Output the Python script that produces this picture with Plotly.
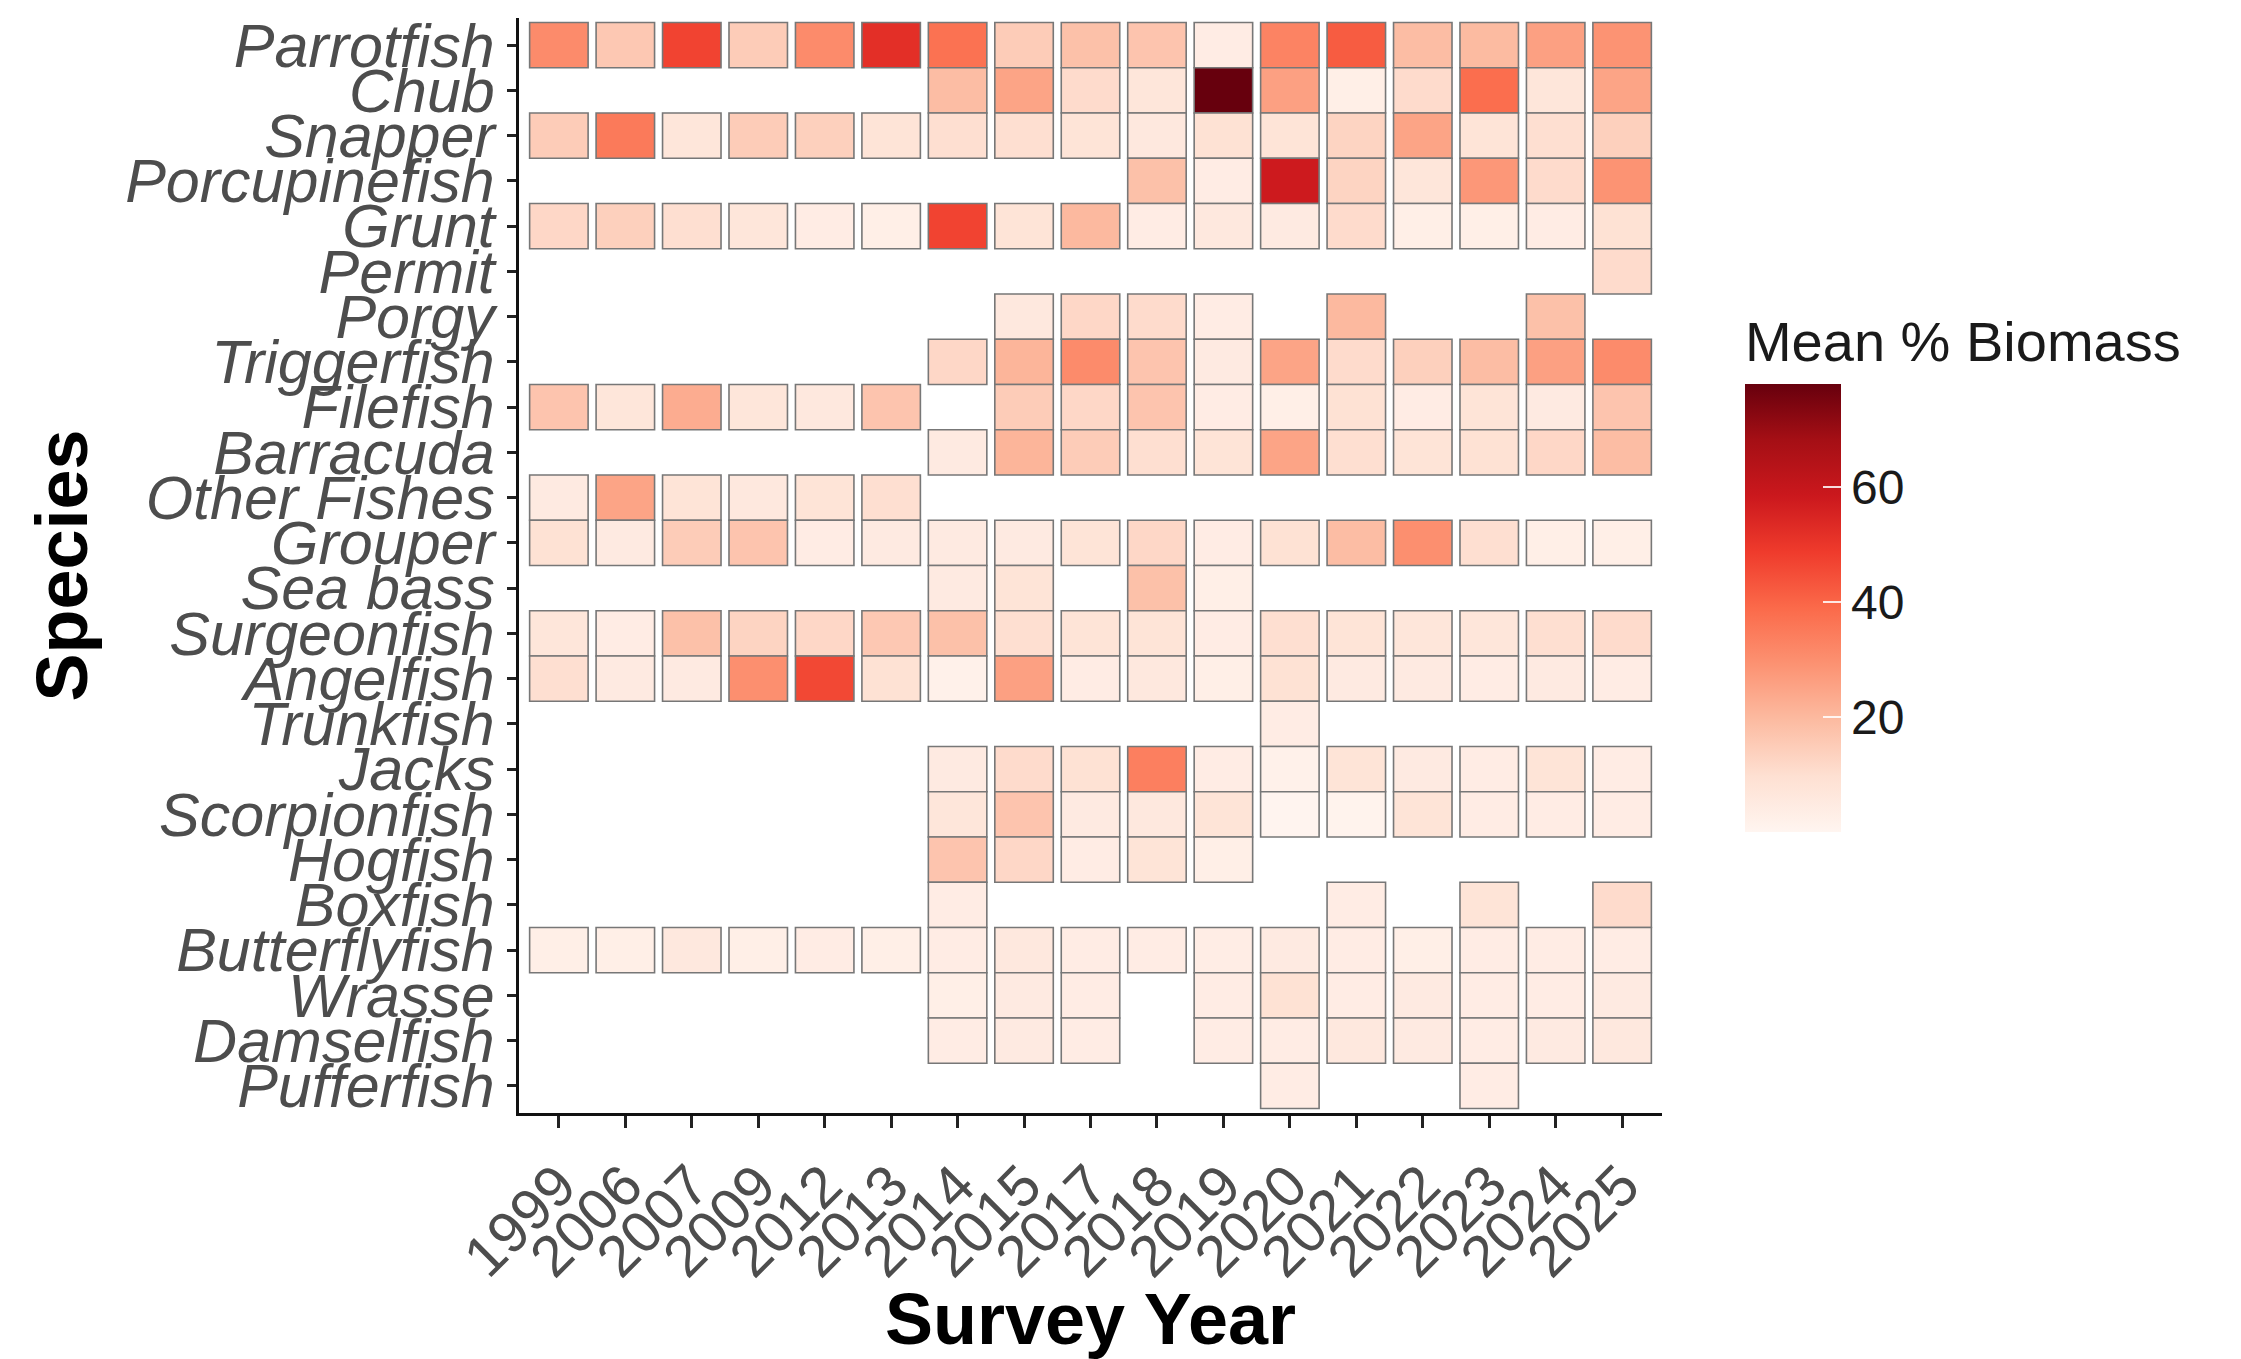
import plotly.graph_objects as go

years = ["1999", "2006", "2007", "2009", "2012", "2013", "2014", "2015", "2017",
         "2018", "2019", "2020", "2021", "2022", "2023", "2024", "2025"]

species = ["Parrotfish", "Chub", "Snapper", "Porcupinefish", "Grunt", "Permit", "Porgy",
           "Triggerfish", "Filefish", "Barracuda", "Other Fishes", "Grouper", "Sea bass",
           "Surgeonfish", "Angelfish", "Trunkfish", "Jacks", "Scorpionfish", "Hogfish",
           "Boxfish", "Butterflyfish", "Wrasse", "Damselfish", "Pufferfish"]

N = None
# Mean % biomass per survey year (order of `years`), None = not recorded
parrotfish    = [31, 16, 47, 15, 31, 52, 37, 15, 18, 17, 4, 33, 42, 19, 19.5, 26, 29]
chub          = [N, N, N, N, N, N, 19, 25, 11, 7, 78, 26, 3, 11, 38, 7, 25]
snapper       = [15, 35, 7, 15, 14, 8, 10, 10, 8, 6, 9, 8, 13, 25, 8, 10, 14]
porcupinefish = [N, N, N, N, N, N, N, N, N, 18, 4, 58, 13, 7, 28, 11, 29]
grunt         = [12, 14, 10, 7, 4, 3, 47, 8, 20, 4, 6, 5, 11, 3, 3, 4, 9]
permit        = [N, N, N, N, N, N, N, N, N, N, N, N, N, N, N, N, 11]
porgy         = [N, N, N, N, N, N, N, 6, 12, 11, 4, N, 20, N, N, 18, N]
triggerfish   = [N, N, N, N, N, N, 12, 21, 31, 17, 5, 25, 11, 14, 19, 26, 31]
filefish      = [17, 7, 23, 7, 6, 17, N, 15, 12, 17, 4, 3, 9, 4, 8, 5, 17]
barracuda     = [N, N, N, N, N, N, 5, 21, 15, 10, 8, 25, 10, 8, 9, 12, 19]
other_fishes  = [5, 25, 8, 6, 8, 10, N, N, N, N, N, N, N, N, N, N, N]
grouper       = [9, 5, 15, 17, 4, 5, 5, 5, 8, 12, 4, 9, 19, 30, 10, 3, 3]
sea_bass      = [N, N, N, N, N, N, 5, 8, N, 18, 3, N, N, N, N, N, N]
surgeonfish   = [7, 4, 18, 13, 12, 16, 18, 10, 8, 8, 4, 10, 8, 7, 7, 10, 11]
angelfish     = [10, 5, 5, 30, 46, 9, 2, 26, 4, 6, 3, 9, 5, 5, 4, 5, 4]
trunkfish     = [N, N, N, N, N, N, N, N, N, N, N, 4, N, N, N, N, N]
jacks         = [N, N, N, N, N, N, 5, 11, 9, 34, 4, 2, 8, 5, 4, 8, 4]
scorpionfish  = [N, N, N, N, N, N, 7, 17, 5, 6, 8, 0.4, 1, 8, 4, 4, 4]
hogfish       = [N, N, N, N, N, N, 17, 12, 4, 8, 3, N, N, N, N, N, N]
boxfish       = [N, N, N, N, N, N, 4, N, N, N, N, N, 4, N, 8, N, 11]
butterflyfish = [3, 3, 6, 3, 4, 3, 4, 6, 4, 4, 3.5, 5, 4, 3, 4, 4, 4]
wrasse        = [N, N, N, N, N, N, 3, 5, 4, N, 4, 9, 4, 5, 4, 4, 5]
damselfish    = [N, N, N, N, N, N, 4, 5, 4, N, 4, 4, 6, 5, 4, 5, 6]
pufferfish    = [N, N, N, N, N, N, N, N, N, N, N, 4, N, N, 4, N, N]

rows = [parrotfish, chub, snapper, porcupinefish, grunt, permit, porgy, triggerfish,
        filefish, barracuda, other_fishes, grouper, sea_bass, surgeonfish, angelfish,
        trunkfish, jacks, scorpionfish, hogfish, boxfish, butterflyfish, wrasse,
        damselfish, pufferfish]

reds = [[0.0, "#fff5f0"], [0.125, "#fee0d2"], [0.25, "#fcbba1"], [0.375, "#fc9272"],
        [0.5, "#fb6a4a"], [0.625, "#ef3b2c"], [0.75, "#cb181d"], [0.875, "#a50f15"],
        [1.0, "#67000d"]]

xs, bases, hs, vals, names = [], [], [], [], []
for i, (sp, row) in enumerate(zip(species, rows)):
    for yr, v in zip(years, row):
        if v is None:
            continue
        xs.append(yr)
        bases.append(i - 0.5)
        hs.append(1)
        vals.append(v)
        names.append(sp)

all_vals = [v for r in rows for v in r if v is not None]
vmin, vmax = 0, max(all_vals)

fig = go.Figure(go.Bar(
    x=xs, y=hs, base=bases, width=0.88,
    customdata=names,
    hovertemplate="%{customdata}<br>%{x}<br>%{marker.color:.1f}%<extra></extra>",
    marker=dict(
        color=vals, colorscale=reds, cmin=vmin, cmax=vmax,
        line=dict(color="#777777", width=1.6),
        showscale=True,
        colorbar=dict(
            title=dict(text="Mean % Biomass", side="top",
                       font=dict(family="Liberation Sans", size=56, color="#1a1a1a")),
            x=1.0726, xanchor="left", xpad=0,
            y=0.257, yanchor="bottom", ypad=0,
            len=516, lenmode="pixels", thickness=96, thicknessmode="pixels",
            outlinewidth=0,
            tickvals=[20, 40, 60], ticks="inside", ticklen=18, tickwidth=2,
            tickcolor="rgba(255,255,255,0.85)",
            tickprefix="\u00a0\u00a0",
            tickfont=dict(family="Liberation Sans", size=48, color="#1a1a1a"),
        ),
    ),
))

fig.update_layout(
    width=2241, height=1359,
    margin=dict(l=519, r=579, t=18, b=246),
    plot_bgcolor="white", paper_bgcolor="white",
    barmode="overlay", showlegend=False,
    font=dict(family="Liberation Sans"),
)

fig.update_xaxes(
    type="category", categoryorder="array", categoryarray=years,
    tickmode="array", tickvals=years, ticktext=years,
    range=[-0.6, len(years) - 0.4],
    showline=True, linecolor="#111", linewidth=3, mirror=False,
    ticks="outside", ticklen=12, tickwidth=2.5, tickcolor="#222",
    tickangle=-45, showgrid=False, zeroline=False,
    tickfont=dict(family="Liberation Sans", size=58, color="#4d4d4d"),
    title=dict(text="<b>Survey Year</b>", standoff=8,
               font=dict(family="Liberation Sans", size=72, color="#000")),
)

fig.update_yaxes(
    tickmode="array", tickvals=list(range(len(species))), ticktext=species,
    range=[len(species) - 0.4, -0.6],
    showline=True, linecolor="#111", linewidth=3,
    ticks="outside", ticklen=9, tickwidth=2.5, tickcolor="#222",
    showgrid=False, zeroline=False,
    tickfont=dict(family="Liberation Sans", size=61, color="#4d4d4d", style="italic"),
    title=dict(text="<b>Species</b>", standoff=14,
               font=dict(family="Liberation Sans", size=72, color="#000")),
)

fig.write_html("out.html")
